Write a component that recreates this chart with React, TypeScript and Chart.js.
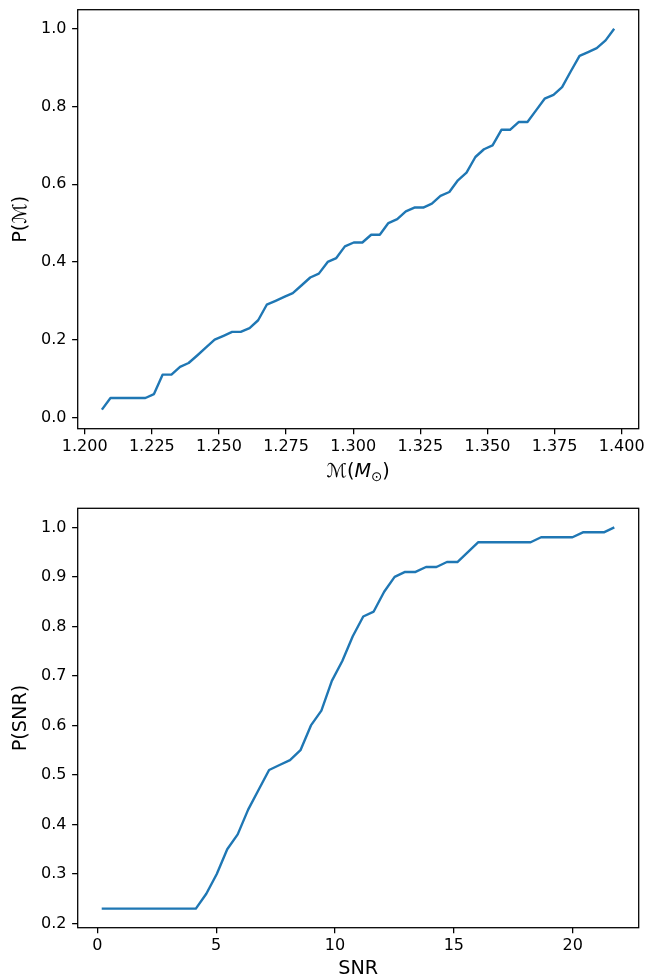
import React, { useEffect, useRef } from 'react';
import { Chart, registerables } from 'chart.js';

Chart.register(...registerables);

// ---------- Data: chirp mass CDF ----------
const MC_X = [
  1.2064, 1.2096, 1.2129, 1.2161, 1.2193, 1.2226, 1.2258, 1.2290, 1.2323, 1.2355,
  1.2387, 1.2420, 1.2452, 1.2484, 1.2517, 1.2549, 1.2581, 1.2614, 1.2646, 1.2678,
  1.2711, 1.2743, 1.2775, 1.2808, 1.2840, 1.2872, 1.2905, 1.2937, 1.2969, 1.3002,
  1.3034, 1.3067, 1.3099, 1.3131, 1.3164, 1.3196, 1.3228, 1.3261, 1.3293, 1.3325,
  1.3358, 1.3390, 1.3422, 1.3455, 1.3487, 1.3519, 1.3552, 1.3584, 1.3616, 1.3649,
  1.3681, 1.3713, 1.3746, 1.3778, 1.3810, 1.3843, 1.3875, 1.3907, 1.3940, 1.3972,
];
const MC_P = [
  0.02, 0.05, 0.05, 0.05, 0.05, 0.05, 0.06, 0.11, 0.11, 0.13,
  0.14, 0.16, 0.18, 0.20, 0.21, 0.22, 0.22, 0.23, 0.25, 0.29,
  0.30, 0.31, 0.32, 0.34, 0.36, 0.37, 0.40, 0.41, 0.44, 0.45,
  0.45, 0.47, 0.47, 0.50, 0.51, 0.53, 0.54, 0.54, 0.55, 0.57,
  0.58, 0.61, 0.63, 0.67, 0.69, 0.70, 0.74, 0.74, 0.76, 0.76,
  0.79, 0.82, 0.83, 0.85, 0.89, 0.93, 0.94, 0.95, 0.97, 1.00,
];
const MC_XTICKS = [1.2, 1.225, 1.25, 1.275, 1.3, 1.325, 1.35, 1.375, 1.4];
const MC_YTICKS = [0.0, 0.2, 0.4, 0.6, 0.8, 1.0];

// ---------- Data: SNR CDF ----------
const SNR_X = [
  0.185, 0.625, 1.065, 1.505, 1.945, 2.386, 2.826, 3.266, 3.706, 4.146,
  4.586, 5.026, 5.466, 5.906, 6.346, 6.787, 7.227, 7.667, 8.107, 8.547,
  8.987, 9.427, 9.867, 10.307, 10.747, 11.188, 11.628, 12.068, 12.508, 12.948,
  13.388, 13.828, 14.268, 14.708, 15.148, 15.589, 16.029, 16.469, 16.909, 17.349,
  17.789, 18.229, 18.669, 19.109, 19.549, 19.990, 20.430, 20.870, 21.310, 21.750,
];
const SNR_P = [
  0.23, 0.23, 0.23, 0.23, 0.23, 0.23, 0.23, 0.23, 0.23, 0.23,
  0.26, 0.30, 0.35, 0.38, 0.43, 0.47, 0.51, 0.52, 0.53, 0.55,
  0.60, 0.63, 0.69, 0.73, 0.78, 0.82, 0.83, 0.87, 0.90, 0.91,
  0.91, 0.92, 0.92, 0.93, 0.93, 0.95, 0.97, 0.97, 0.97, 0.97,
  0.97, 0.97, 0.98, 0.98, 0.98, 0.98, 0.99, 0.99, 0.99, 1.00,
];
const SNR_XTICKS = [0, 5, 10, 15, 20];
const SNR_YTICKS = [0.2, 0.3, 0.4, 0.5, 0.6, 0.7, 0.8, 0.9, 1.0];

// ---------- Texts ----------
const MC_YLABEL = 'P(ℳ)';
const MC_XLABEL_PARTS = ['ℳ', '(', 'M', '⊙', ')'];
const SNR_YLABEL = 'P(SNR)';
const SNR_XLABEL = 'SNR';

const FONT = '"DejaVu Sans", "Noto Sans", sans-serif';
const TICK_PX = 16;
const LABEL_PX = 19.2;
const LINE_COLOR = '#1f77b4';
const W = 645;
const H = 490;
const PLOT_LEFT = 77.7;
const PLOT_RIGHT = 638.7;

const boxPlugin = {
  id: 'mplBox',
  afterDatasetsDraw(chart: any) {
    const { ctx, chartArea: a } = chart;
    ctx.save();
    ctx.strokeStyle = '#000';
    ctx.lineWidth = 1.28;
    ctx.strokeRect(a.left, a.top, a.right - a.left, a.bottom - a.top);
    ctx.restore();
  },
};

const mathXLabelPlugin = {
  id: 'mathXLabel',
  afterDraw(chart: any) {
    const { ctx, chartArea: a } = chart;
    const normal = `${LABEL_PX}px ${FONT}`;
    const italic = `italic ${LABEL_PX}px ${FONT}`;
    const small = `${LABEL_PX * 0.7}px ${FONT}`;
    const fonts = [normal, normal, italic, small, normal];
    const dys = [0, 0, 0, 4, 0];
    ctx.save();
    ctx.fillStyle = '#000';
    ctx.textBaseline = 'alphabetic';
    ctx.textAlign = 'left';
    const widths = MC_XLABEL_PARTS.map((t, i) => {
      ctx.font = fonts[i];
      return ctx.measureText(t).width;
    });
    const total = widths.reduce((s, v) => s + v, 0);
    let x = (a.left + a.right) / 2 - total / 2;
    const baseline = 476.5;
    MC_XLABEL_PARTS.forEach((t, i) => {
      ctx.font = fonts[i];
      ctx.fillText(t, x, baseline + dys[i]);
      x += widths[i];
    });
    ctx.restore();
  },
};

type Spec = {
  xs: number[];
  ys: number[];
  xTicks: number[];
  yTicks: number[];
  xMin: number;
  xMax: number;
  yMin: number;
  yMax: number;
  xFmt: (v: number) => string;
  yFmt: (v: number) => string;
  padTop: number;
  plotBottom: number;
  yLabel: string;
  xLabel: string | null;
  extraPlugins: any[];
};

function buildConfig(s: Spec): any {
  const tickFont = { family: FONT, size: TICK_PX, lineHeight: 1 };
  const titleFont = { family: FONT, size: LABEL_PX, lineHeight: 1 };
  const gridCommon = {
    display: true,
    drawOnChartArea: false,
    drawTicks: true,
    tickLength: 5.6,
    tickWidth: 1.28,
    tickColor: '#000',
    lineWidth: 1.28,
    color: '#000',
  };
  return {
    type: 'line',
    data: {
      datasets: [
        {
          data: s.xs.map((x, i) => ({ x, y: s.ys[i] })),
          borderColor: LINE_COLOR,
          backgroundColor: LINE_COLOR,
          borderWidth: 2.4,
          pointRadius: 0,
          pointHoverRadius: 0,
          tension: 0,
          fill: false,
          borderJoinStyle: 'round',
          borderCapStyle: 'butt',
        },
      ],
    },
    options: {
      animation: false,
      responsive: false,
      maintainAspectRatio: false,
      devicePixelRatio: 1,
      events: [],
      layout: {
        padding: { top: s.padTop, right: W - PLOT_RIGHT, left: 0, bottom: 0 },
      },
      plugins: {
        legend: { display: false },
        tooltip: { enabled: false },
        title: { display: false },
      },
      scales: {
        x: {
          type: 'linear',
          min: s.xMin,
          max: s.xMax,
          grid: gridCommon,
          border: { display: false },
          ticks: {
            color: '#000',
            font: tickFont,
            padding: 4.6,
            autoSkip: false,
            maxRotation: 0,
            minRotation: 0,
            callback: (v: any) => s.xFmt(Number(v)),
          },
          afterBuildTicks: (scale: any) => {
            scale.ticks = s.xTicks.map((v) => ({ value: v }));
          },
          afterFit: (scale: any) => {
            scale.height = H - s.plotBottom;
            scale.paddingLeft = 0;
            scale.paddingRight = 0;
            scale.paddingTop = 0;
            scale.paddingBottom = 0;
          },
          title: s.xLabel
            ? {
                display: true,
                text: s.xLabel,
                color: '#000',
                font: titleFont,
                padding: { top: 0, bottom: 1.4 },
              }
            : { display: false },
        },
        y: {
          type: 'linear',
          min: s.yMin,
          max: s.yMax,
          grid: gridCommon,
          border: { display: false },
          ticks: {
            color: '#000',
            font: tickFont,
            padding: 5.6,
            autoSkip: false,
            callback: (v: any) => s.yFmt(Number(v)),
          },
          afterBuildTicks: (scale: any) => {
            scale.ticks = s.yTicks.map((v) => ({ value: v }));
          },
          afterFit: (scale: any) => {
            scale.width = PLOT_LEFT;
            scale.paddingLeft = 0;
            scale.paddingRight = 0;
            scale.paddingTop = 0;
            scale.paddingBottom = 0;
          },
          title: {
            display: true,
            text: s.yLabel,
            color: '#000',
            font: titleFont,
            padding: { top: 11.2, bottom: 0 },
          },
        },
      },
    },
    plugins: [boxPlugin, ...s.extraPlugins],
  };
}

const MC_SPEC: Spec = {
  xs: MC_X,
  ys: MC_P,
  xTicks: MC_XTICKS,
  yTicks: MC_YTICKS,
  xMin: 1.19739,
  xMax: 1.40633,
  yMin: -0.029,
  yMax: 1.049,
  xFmt: (v) => v.toFixed(3),
  yFmt: (v) => v.toFixed(1),
  padTop: 9.7,
  plotBottom: 428.7,
  yLabel: MC_YLABEL,
  xLabel: null,
  extraPlugins: [mathXLabelPlugin],
};

const SNR_SPEC: Spec = {
  xs: SNR_X,
  ys: SNR_P,
  xTicks: SNR_XTICKS,
  yTicks: SNR_YTICKS,
  xMin: -0.825,
  xMax: 22.776,
  yMin: 0.1915,
  yMax: 1.0385,
  xFmt: (v) => String(Math.round(v)),
  yFmt: (v) => v.toFixed(1),
  padTop: 18.3,
  plotBottom: 437.7,
  yLabel: SNR_YLABEL,
  xLabel: SNR_XLABEL,
  extraPlugins: [],
};

function CdfChart({ spec, top }: { spec: Spec; top: number }) {
  const ref = useRef<HTMLCanvasElement | null>(null);
  useEffect(() => {
    if (!ref.current) return;
    const chart = new Chart(ref.current, buildConfig(spec));
    return () => chart.destroy();
  }, [spec]);
  return (
    <canvas
      ref={ref}
      width={W}
      height={H}
      style={{ position: 'absolute', left: 0, top, width: W, height: H, display: 'block' }}
    />
  );
}

export default function App() {
  return (
    <div style={{ position: 'absolute', left: 0, top: 0, width: W, height: 980, background: '#fff' }}>
      <CdfChart spec={MC_SPEC} top={0} />
      <CdfChart spec={SNR_SPEC} top={490} />
    </div>
  );
}
